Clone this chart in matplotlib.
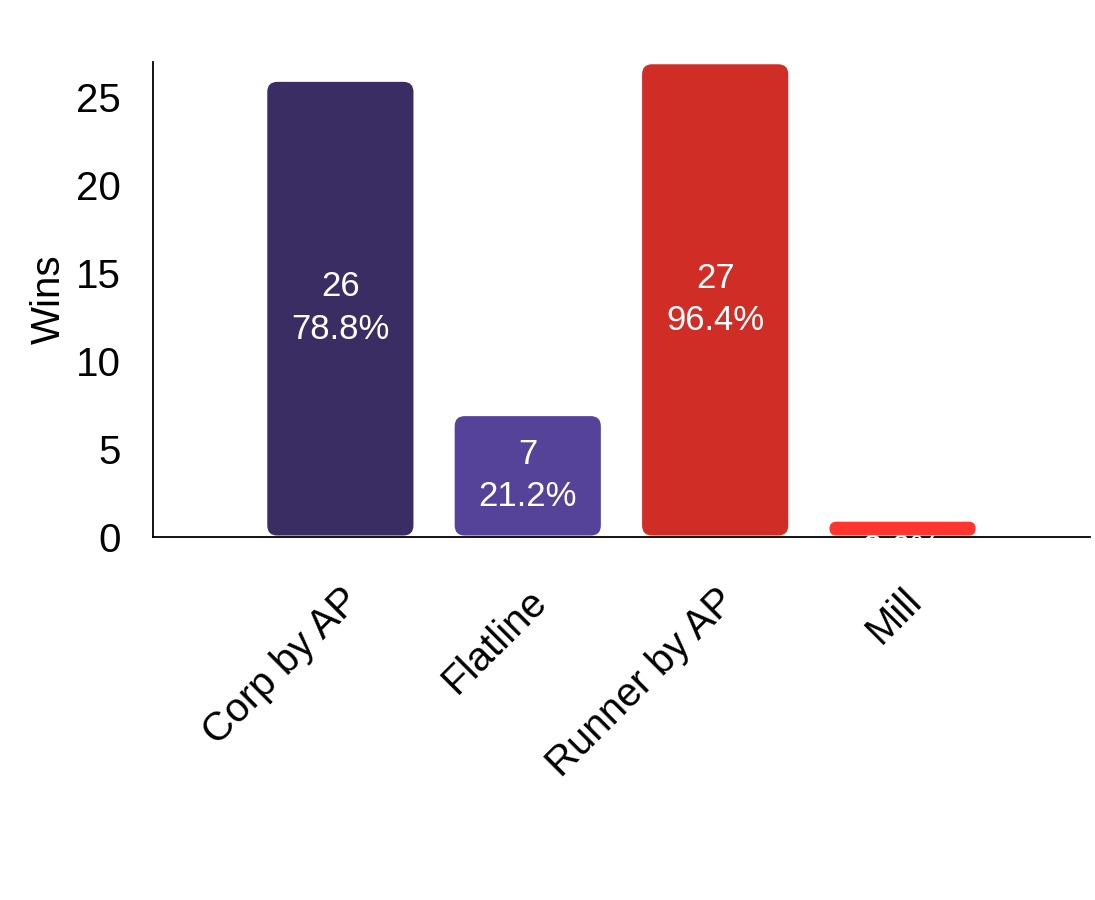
import matplotlib
matplotlib.use("Agg")
import matplotlib.pyplot as plt
from matplotlib.patches import FancyBboxPatch

plt.rcParams['font.family'] = ['Liberation Sans', 'DejaVu Sans']

categories = ["Corp by AP", "Flatline", "Runner by AP", "Mill"]
wins = [26, 7, 27, 1]
percents = ["78.8%", "21.2%", "96.4%", "3.6%"]
colors = ["#3a2d63", "#544399", "#d12d27", "#ff3530"]

fig = plt.figure(figsize=(10.95, 9), dpi=100)
ax = fig.add_axes([0.1397, 0.4033, 0.8557, 0.5278])
ax.set_xlim(-1, 4)
ax.set_ylim(0, 27)

bars = ax.bar(range(len(categories)), wins, width=0.78, color="none")
fig.canvas.draw()
# pixel -> data scale for rounding
px_x = 1.0 / (ax.transData.transform((1, 0))[0] - ax.transData.transform((0, 0))[0])
px_y = 1.0 / (ax.transData.transform((0, 1))[1] - ax.transData.transform((0, 0))[1])
aspect = px_y / px_x

for b, c, v, p in zip(bars, colors, wins, percents):
    x, w, h = b.get_x(), b.get_width(), b.get_height()
    inset = 1.5 * px_y
    hh = h - 2.5 * inset
    r = min(10, hh / px_y / 2)
    patch = FancyBboxPatch((x, inset), w, hh,
                           boxstyle=f"round,pad=0,rounding_size={r * px_x}",
                           mutation_aspect=aspect, fc=c, ec="none", zorder=2)
    ax.add_patch(patch)
    ax.text(x + w / 2, h / 2, f"{v}\n{p}", ha="center", va="center",
            color="white", fontsize=25, zorder=4, linespacing=1.38)

ax.spines["top"].set_visible(False)
ax.spines["right"].set_visible(False)
ax.spines["left"].set_linewidth(1.3)
ax.spines["bottom"].set_linewidth(1.3)
ax.set_yticks([0, 5, 10, 15, 20, 25])
ax.tick_params(axis="y", length=0, pad=23, labelsize=29)
ax.set_xticks(range(len(categories)))
ax.set_xticklabels(categories, rotation=45, ha="right", rotation_mode="anchor")
ax.tick_params(axis="x", length=0, pad=32, labelsize=29)
ax.set_ylabel("Wins", fontsize=29, labelpad=6)

fig.savefig("out.png", dpi=100)
